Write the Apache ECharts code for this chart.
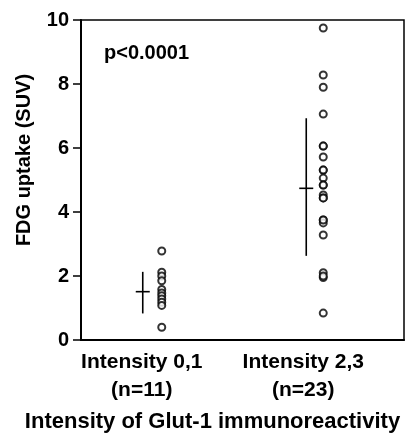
<!DOCTYPE html>
<html><head><meta charset="utf-8">
<script src="https://cdn.jsdelivr.net/npm/echarts@6/dist/echarts.min.js"></script>
<style>html,body{margin:0;padding:0;background:#fff}#c{width:416px;height:435px}</style>
</head><body><div id="c"></div>
<script>
const categories = ['Intensity 0,1\n(n=11)', 'Intensity 2,3\n(n=23)'];
const group1 = [2.78, 2.12, 2.0, 1.85, 1.58, 1.47, 1.38, 1.28, 1.18, 1.08, 0.4];
const group2 = [9.75, 8.28, 7.9, 7.06, 6.06, 6.06, 5.72, 5.31, 5.31, 5.06, 4.84, 4.84, 4.53, 4.44, 4.44, 3.75, 3.66, 3.75, 3.28, 2.1, 1.95, 2.0, 0.84];
const means = [1.51, 4.74];
const sdLow = [0.83, 2.63];
const sdHigh = [2.13, 6.93];
const yTicks = [0, 2, 4, 6, 8, 10];
const pText = 'p<0.0001';
const yName = 'FDG uptake (SUV)';
const xName = 'Intensity of Glut-1 immunoreactivity';

const FONT = "'Liberation Sans', Arial, sans-serif";
const crossOffset = [-19, -17];
const chart = echarts.init(document.getElementById('c'), null, {renderer: 'canvas'});
const pts = [];
group1.forEach(v => pts.push([0, v]));
group2.forEach(v => pts.push([1, v]));
chart.setOption({
  animation: false,
  backgroundColor: '#fff',
  grid: {left: 81, right: 12, top: 20, bottom: 95, show: true, borderColor: '#000', borderWidth: 1.5, backgroundColor: 'transparent', containLabel: false, outerBoundsMode: 'none'},
  xAxis: {
    type: 'category', data: categories, boundaryGap: true,
    axisLine: {lineStyle: {color: '#000', width: 2}},
    axisTick: {show: false},
    axisLabel: {color: '#000', fontFamily: FONT, fontWeight: 'bold', fontSize: 21, lineHeight: 28, margin: 8, padding: [0, 40, 0, 0]},
    name: xName, nameLocation: 'middle', nameGap: 71,
    nameTextStyle: {color: '#000', fontFamily: FONT, fontWeight: 'bold', fontSize: 22, padding: [0, 60, 0, 0]}
  },
  yAxis: {
    type: 'value', min: 0, max: 10, interval: 2,
    axisLine: {show: true, lineStyle: {color: '#000', width: 2}},
    axisTick: {show: true, length: 8, lineStyle: {color: '#000', width: 1.5}},
    splitLine: {show: false},
    axisLabel: {color: '#000', fontFamily: FONT, fontWeight: 'bold', fontSize: 20, margin: 12,
      formatter: v => yTicks.includes(v) ? String(v) : ''}
  },
  graphic: [
    {type: 'text', left: 104, top: 43, style: {text: pText, fill: '#000', font: "bold 20px " + FONT}},
    {type: 'text', x: 24, y: 160, rotation: Math.PI / 2, style: {text: yName, fill: '#000', font: "bold 20px " + FONT, align: 'center', verticalAlign: 'middle'}}
  ],
  series: [
    {
      type: 'scatter', data: pts, symbol: 'circle', symbolSize: 7,
      itemStyle: {color: '#fff', borderColor: '#000', borderWidth: 2}, z: 3
    },
    {
      type: 'custom',
      data: means.map((m, i) => [i, m, sdLow[i], sdHigh[i]]),
      renderItem: (params, api) => {
        const c = api.value(0);
        const m = api.coord([c, api.value(1)]);
        const lo = api.coord([c, api.value(2)]);
        const hi = api.coord([c, api.value(3)]);
        const x = m[0] + crossOffset[params.dataIndex];
        const st = {stroke: '#000', lineWidth: 1.6};
        return {type: 'group', children: [
          {type: 'line', shape: {x1: x, y1: lo[1], x2: x, y2: hi[1]}, style: st},
          {type: 'line', shape: {x1: x - 7, y1: m[1], x2: x + 7, y2: m[1]}, style: st}
        ]};
      }
    }
  ]
});
</script></body></html>
